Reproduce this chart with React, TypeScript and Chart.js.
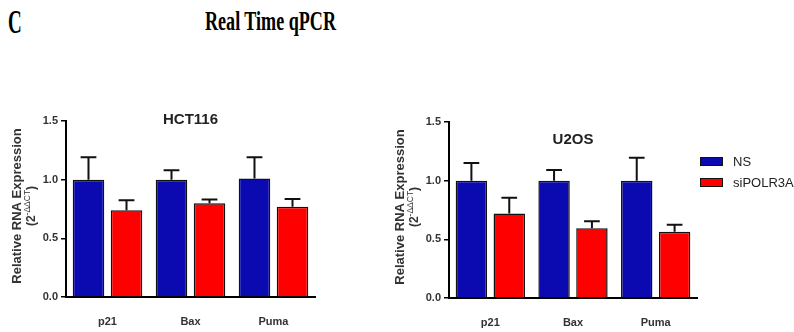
import React, { useEffect, useRef } from "react";
import { Chart, registerables } from "chart.js";

Chart.register(...registerables);

const CATEGORIES = ["p21", "Bax", "Puma"];
const SERIES_NAMES = ["NS", "siPOLR3A"];
const Y_TICKS = [0, 0.5, 1.0, 1.5];

const HCT_NS = [1.0, 1.0, 1.01];
const HCT_NS_ERR = [0.19, 0.08, 0.18];
const HCT_SI = [0.74, 0.8, 0.77];
const HCT_SI_ERR = [0.085, 0.03, 0.065];

const U2OS_NS = [1.0, 1.0, 1.0];
const U2OS_NS_ERR = [0.15, 0.09, 0.195];
const U2OS_SI = [0.72, 0.595, 0.565];
const U2OS_SI_ERR = [0.135, 0.06, 0.06];

const BLUE = "#0a0ab0";
const RED = "#ff0000";
const SANS = "Arial, 'Liberation Sans', sans-serif";

const overlayPlugin = {
  id: "panelOverlay",
  afterDatasetsDraw(chart: any, _args: any, opts: any) {
    const ctx = chart.ctx;
    const yScale = chart.scales.y;
    ctx.save();
    ctx.strokeStyle = "#111";
    ctx.lineWidth = 2;
    chart.data.datasets.forEach((ds: any, i: number) => {
      const meta = chart.getDatasetMeta(i);
      meta.data.forEach((bar: any, j: number) => {
        const err = ds.errors ? ds.errors[j] : 0;
        if (!err) return;
        const yTop = yScale.getPixelForValue(ds.data[j] + err);
        const half = bar.width / 4;
        ctx.beginPath();
        ctx.moveTo(bar.x, bar.y);
        ctx.lineTo(bar.x, yTop);
        ctx.moveTo(bar.x - half, yTop);
        ctx.lineTo(bar.x + half, yTop);
        ctx.stroke();
      });
    });
    ctx.restore();
  },
  afterDraw(chart: any, _args: any, opts: any) {
    const ctx = chart.ctx;
    const a = chart.chartArea;
    ctx.save();
    // panel title
    ctx.fillStyle = "#222";
    ctx.font = `bold 15px ${SANS}`;
    ctx.textAlign = "center";
    ctx.textBaseline = "middle";
    ctx.fillText(opts.title, (a.left + a.right) / 2, a.top + opts.titleOffset);
    // y-axis title
    const cy = (a.top + a.bottom) / 2 - 3;
    ctx.translate(a.left - 49, cy);
    ctx.rotate(-Math.PI / 2);
    ctx.fillStyle = "#333";
    ctx.font = `bold 13px ${SANS}`;
    ctx.fillText("Relative RNA Expression", 0, 0);
    // second line: (2^-ΔΔCT)
    ctx.font = `bold 12px ${SANS}`;
    const p1 = "(2";
    const sup = "-\u0394\u0394CT";
    const p2 = ")";
    const w1 = ctx.measureText(p1).width;
    const w3 = ctx.measureText(p2).width;
    ctx.font = `8.5px ${SANS}`;
    const w2 = ctx.measureText(sup).width;
    const total = w1 + w2 + w3;
    let x = -total / 2;
    const y2 = 15;
    ctx.textAlign = "left";
    ctx.font = `bold 12px ${SANS}`;
    ctx.fillText(p1, x, y2);
    x += w1;
    ctx.font = `8.5px ${SANS}`;
    ctx.fillText(sup, x, y2 - 4);
    x += w2;
    ctx.font = `bold 12px ${SANS}`;
    ctx.fillText(p2, x, y2);
    ctx.restore();
  },
};

function makeConfig(
  ns: number[],
  nsErr: number[],
  si: number[],
  siErr: number[],
  title: string,
  titleOffset: number,
  yWidth: number,
  xHeight: number,
  padTop: number,
  padRight: number
): any {
  return {
    type: "bar",
    data: {
      labels: CATEGORIES,
      datasets: [
        {
          label: SERIES_NAMES[0],
          data: ns,
          errors: nsErr,
          backgroundColor: BLUE,
          borderColor: "#111",
          borderWidth: 1.5,
          categoryPercentage: 0.916,
          barPercentage: 0.83,
        },
        {
          label: SERIES_NAMES[1],
          data: si,
          errors: siErr,
          backgroundColor: RED,
          borderColor: "#111",
          borderWidth: 1.5,
          categoryPercentage: 0.916,
          barPercentage: 0.83,
        },
      ],
    },
    options: {
      responsive: false,
      animation: false,
      layout: { padding: { top: padTop, right: padRight, left: 0, bottom: 0 } },
      plugins: {
        legend: { display: false },
        title: { display: false },
        tooltip: { enabled: false },
        panelOverlay: { title, titleOffset },
      },
      scales: {
        x: {
          type: "category",
          grid: { display: false },
          border: { display: true, color: "#000", width: 2 },
          ticks: {
            color: "#333",
            padding: 10,
            font: { family: SANS, weight: "bold", size: 11 },
          },
          afterFit: (s: any) => {
            s.height = xHeight;
          },
        },
        y: {
          min: 0,
          max: 1.5,
          afterBuildTicks: (s: any) => {
            s.ticks = Y_TICKS.map((v) => ({ value: v }));
          },
          ticks: {
            color: "#333",
            padding: 3,
            font: { family: SANS, weight: "bold", size: 11 },
            callback: (v: any) => Number(v).toFixed(1),
          },
          grid: {
            drawOnChartArea: false,
            drawTicks: true,
            tickLength: 5,
            color: "#000",
            lineWidth: 1.5,
          },
          border: { display: true, color: "#000", width: 2 },
          afterFit: (s: any) => {
            s.width = yWidth;
          },
        },
      },
    },
    plugins: [overlayPlugin],
  };
}

function Panel(props: { config: any; left: number; width: number }) {
  const ref = useRef<HTMLCanvasElement | null>(null);
  useEffect(() => {
    if (!ref.current) return;
    const chart = new Chart(ref.current, props.config);
    return () => chart.destroy();
  }, []);
  return (
    <canvas
      ref={ref}
      width={props.width}
      height={232}
      style={{
        position: "absolute",
        left: props.left,
        top: 100,
        width: props.width,
        height: 232,
        display: "block",
      }}
    />
  );
}

export default function App() {
  const leftCfg = makeConfig(HCT_NS, HCT_NS_ERR, HCT_SI, HCT_SI_ERR, "HCT116", -1, 66, 35, 21, 25);
  const rightCfg = makeConfig(U2OS_NS, U2OS_NS_ERR, U2OS_SI, U2OS_SI_ERR, "U2OS", 18, 69, 34, 22, 23);
  const serif = "'Liberation Serif', 'Times New Roman', serif";
  return (
    <div
      style={{
        position: "fixed",
        left: 0,
        top: 0,
        width: 794,
        height: 332,
        background: "#fff",
        overflow: "hidden",
      }}
    >
      <span
        style={{
          position: "absolute",
          left: 8,
          top: 5,
          fontFamily: serif,
          fontWeight: "bold",
          fontSize: 34,
          lineHeight: 1,
          whiteSpace: "nowrap",
          transform: "scaleX(0.56)",
          transformOrigin: "left top",
          color: "#000",
        }}
      >
        C
      </span>
      <span
        style={{
          position: "absolute",
          left: 205,
          top: 8,
          fontFamily: serif,
          fontWeight: "bold",
          fontSize: 27,
          lineHeight: 1,
          whiteSpace: "nowrap",
          transform: "scaleX(0.67)",
          transformOrigin: "left top",
          color: "#000",
        }}
      >
        Real Time qPCR
      </span>
      <Panel config={leftCfg} left={0} width={340} />
      <Panel config={rightCfg} left={380} width={340} />
      {[0, 1].map((i) => (
        <div
          key={i}
          style={{
            position: "absolute",
            left: 700,
            top: 156 + i * 20.5,
            height: 11,
            display: "flex",
            alignItems: "center",
            whiteSpace: "nowrap",
          }}
        >
          <span
            style={{
              display: "inline-block",
              width: 21,
              height: 7,
              background: i === 0 ? BLUE : RED,
              border: "1px solid #111",
            }}
          />
          <span
            style={{
              marginLeft: 10,
              fontFamily: SANS,
              fontSize: 13,
              color: "#222",
            }}
          >
            {SERIES_NAMES[i]}
          </span>
        </div>
      ))}
    </div>
  );
}
